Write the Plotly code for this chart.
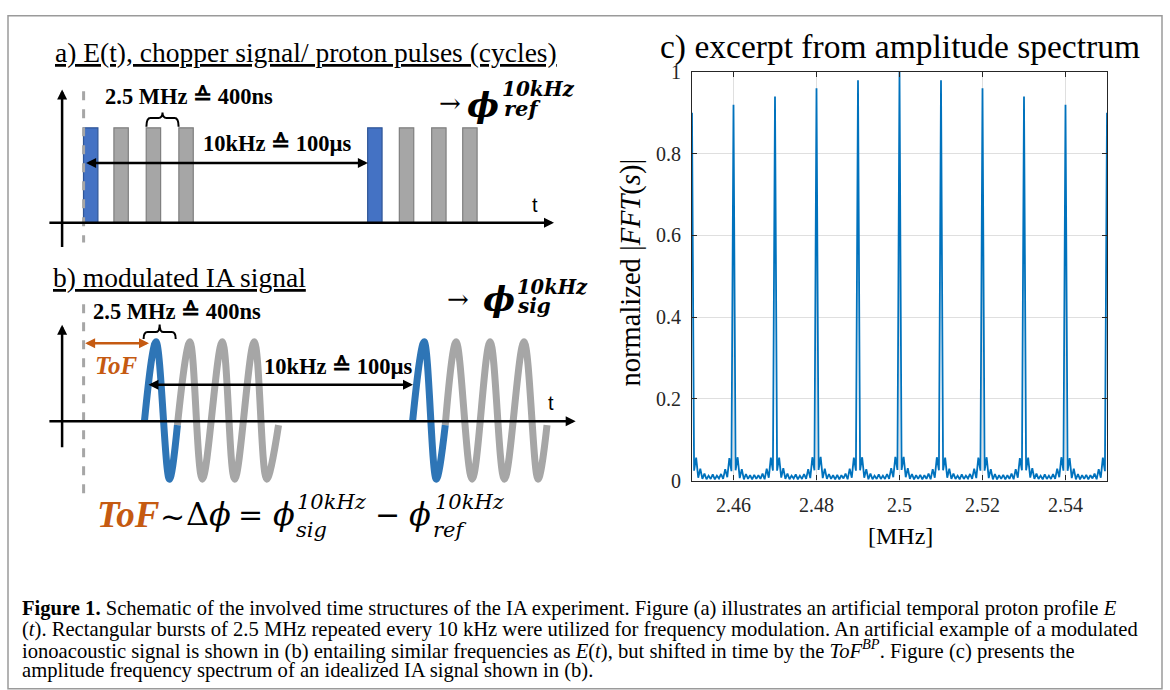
import plotly.graph_objects as go

W, H = 1170, 690
SERIF = "Liberation Serif, Times New Roman, serif"
MATH = "DejaVu Serif, serif"
SANS = "Liberation Sans, Arial, sans-serif"
ORANGE = "#C55A11"
BAR_BLUE = "#4472C4"
WAVE_BLUE = "#2E75B6"
GRAY = "#A6A6A6"

# ---------------- data: panel (c) amplitude spectrum ----------------
freq_start = 2.45      # MHz, first bin
freq_step = 0.0005     # MHz, bin width
amplitude = [
    0.90, 0.024, 0.056, 0.007, 0.029, 0.004, 0.017, 0.003, 0.012, 0.004, 0.015, 0.003, 0.012, 0.005, 0.016, 0.004, 0.028, 0.008, 0.055, 0.023,
    0.92, 0.025, 0.057, 0.006, 0.028, 0.003, 0.016, 0.004, 0.013, 0.003, 0.014, 0.004, 0.013, 0.004, 0.017, 0.003, 0.029, 0.007, 0.056, 0.024,
    0.94, 0.024, 0.056, 0.007, 0.030, 0.004, 0.017, 0.003, 0.012, 0.005, 0.015, 0.003, 0.012, 0.004, 0.016, 0.004, 0.028, 0.006, 0.057, 0.025,
    0.96, 0.026, 0.058, 0.006, 0.029, 0.004, 0.016, 0.004, 0.013, 0.003, 0.014, 0.003, 0.013, 0.005, 0.017, 0.003, 0.029, 0.007, 0.056, 0.024,
    0.98, 0.025, 0.057, 0.007, 0.028, 0.003, 0.017, 0.003, 0.012, 0.004, 0.015, 0.004, 0.012, 0.004, 0.016, 0.004, 0.030, 0.008, 0.058, 0.026,
    1.00, 0.026, 0.058, 0.008, 0.030, 0.004, 0.016, 0.003, 0.013, 0.004, 0.014, 0.003, 0.013, 0.004, 0.017, 0.003, 0.028, 0.007, 0.057, 0.025,
    0.98, 0.025, 0.056, 0.007, 0.029, 0.004, 0.017, 0.004, 0.012, 0.003, 0.015, 0.004, 0.012, 0.005, 0.016, 0.004, 0.029, 0.006, 0.056, 0.024,
    0.96, 0.024, 0.057, 0.006, 0.028, 0.003, 0.016, 0.003, 0.013, 0.004, 0.014, 0.003, 0.013, 0.004, 0.017, 0.003, 0.028, 0.007, 0.055, 0.025,
    0.94, 0.025, 0.056, 0.007, 0.030, 0.004, 0.017, 0.004, 0.012, 0.003, 0.015, 0.004, 0.012, 0.004, 0.016, 0.004, 0.029, 0.008, 0.057, 0.024,
    0.92, 0.024, 0.055, 0.006, 0.029, 0.003, 0.016, 0.003, 0.013, 0.004, 0.014, 0.003, 0.013, 0.005, 0.017, 0.003, 0.028, 0.007, 0.056, 0.023,
    0.90,
]
freq = [freq_start + i * freq_step for i in range(len(amplitude))]
x_tickvals = [2.46, 2.48, 2.50, 2.52, 2.54]
x_ticktext = ["2.46", "2.48", "2.5", "2.52", "2.54"]
y_tickvals = [0, 0.2, 0.4, 0.6, 0.8, 1.0]
y_ticktext = ["0", "0.2", "0.4", "0.6", "0.8", "1"]

# ---------------- data: schematic panels (a) and (b), in pulse-period units ----------------
pulse_times = [0, 0.95, 1.96, 2.98, 8.88, 9.87, 10.88, 11.85]
pulse_heights = [1, 1, 1, 1, 1, 1, 1, 1]
pulse_is_ref = [True, False, False, False, True, False, False, False]

wave1_blue_t = [1.68, 2.04, 2.46, 2.71]
wave1_blue_y = [0.0, 1.0, -0.73, -0.05]
wave1_gray_t = [2.71, 3.10, 3.49, 4.11, 4.50, 5.11, 5.50, 5.87]
wave1_gray_y = [-0.05, 1.0, -0.73, 1.0, -0.73, 1.0, -0.73, -0.05]
wave2_blue_t = [10.06, 10.42, 10.80, 11.08]
wave2_blue_y = [0.0, 1.0, -0.73, -0.05]
wave2_gray_t = [11.08, 11.42, 11.92, 12.48, 12.93, 13.54, 13.98, 14.26]
wave2_gray_y = [-0.05, 1.0, -0.73, 1.0, -0.73, 1.0, -0.73, -0.05]

caption_lines = [
    "<b>Figure 1.</b> Schematic of the involved time structures of the IA experiment. Figure (a) illustrates an artificial temporal proton profile <i>E</i>",
    "(<i>t</i>). Rectangular bursts of 2.5 MHz repeated every 10 kHz were utilized for frequency modulation. An artificial example of a modulated",
    "ionoacoustic signal is shown in (b) entailing similar frequencies as <i>E</i>(<i>t</i>), but shifted in time by the <i>ToF</i><sup><i>BP</i></sup>. Figure (c) presents the",
    "amplitude frequency spectrum of an idealized IA signal shown in (b).",
]

# ---------------- helpers ----------------
def px(x):
    return x / W

def py(y):
    return 1 - y / H

annotations = []
shapes = []

def text(x, y, s, size, color="black", family=SERIF, xa="left", ya="middle", angle=0):
    annotations.append(dict(x=px(x), y=py(y), xref="paper", yref="paper", text=s,
                            showarrow=False, xanchor=xa, yanchor=ya, textangle=angle,
                            font=dict(family=family, size=size, color=color)))

def arrow(x0, y0, x1, y1, color="black", width=2.5, both=False, size=0.8):
    d = dict(x=px(x1), y=py(y1), xref="paper", yref="paper", text="",
             showarrow=True, ax=x0 - x1, ay=y0 - y1, axref="pixel", ayref="pixel",
             arrowhead=2, arrowsize=size, arrowwidth=width, arrowcolor=color,
             standoff=0, startstandoff=0)
    if both:
        d.update(arrowside="end+start", startarrowhead=2, startarrowsize=size)
    annotations.append(d)

def bracket(x0, x1, y, h_end, h_mid):
    xc = (x0 + x1) / 2
    r = 4
    p = (f"M{px(x0)},{py(y + h_end)} Q{px(x0)},{py(y)} {px(x0 + r)},{py(y)} "
         f"L{px(xc - r)},{py(y)} Q{px(xc)},{py(y)} {px(xc)},{py(y - h_mid)} "
         f"Q{px(xc)},{py(y)} {px(xc + r)},{py(y)} L{px(x1 - r)},{py(y)} "
         f"Q{px(x1)},{py(y)} {px(x1)},{py(y + h_end)}")
    shapes.append(dict(type="path", xref="paper", yref="paper", path=p,
                       line=dict(color="black", width=2)))

def vdash(x, y0, y1):
    shapes.append(dict(type="line", xref="paper", yref="paper", x0=px(x), x1=px(x),
                       y0=py(y0), y1=py(y1), line=dict(color=GRAY, width=3, dash="dash")))

fig = go.Figure()

# ---- panel (c) spectrum ----
fig.add_trace(go.Scatter(x=freq, y=amplitude, mode="lines", xaxis="x", yaxis="y",
                         line=dict(color="#0072BD", width=1.8), hoverinfo="skip"))

# ---- panel (a) bars ----
fig.add_trace(go.Bar(x=pulse_times, y=pulse_heights, width=0.45, xaxis="x2", yaxis="y2",
                     marker=dict(color=[BAR_BLUE if r else GRAY for r in pulse_is_ref],
                                 line=dict(color=["#2F5597" if r else "#7F7F7F" for r in pulse_is_ref],
                                           width=1.2)),
                     hoverinfo="skip"))

# ---- panel (b) waves ----
for t, y, c in [(wave1_gray_t, wave1_gray_y, GRAY), (wave2_gray_t, wave2_gray_y, GRAY),
                (wave1_blue_t, wave1_blue_y, WAVE_BLUE), (wave2_blue_t, wave2_blue_y, WAVE_BLUE)]:
    fig.add_trace(go.Scatter(x=t, y=y, mode="lines", xaxis="x2", yaxis="y3",
                             line=dict(color=c, width=7, shape="spline", smoothing=1.0),
                             hoverinfo="skip"))

# ---- outer frame ----
shapes.append(dict(type="rect", xref="paper", yref="paper", x0=px(8), x1=px(1162),
                   y0=py(700), y1=py(5), line=dict(color="#9A9A9A", width=1.5)))

A0 = 218.7   # panel (a) time-axis position
B0 = 423.7   # panel (b) time-axis position

# ---- panel (a) decorations ----
text(53, 43, "<u>a) E(t), chopper signal/ proton pulses (cycles)</u>", 27.5)
vdash(83.6, 83, 239)
arrow(62.1, 240, 62.1, 81)
arrow(47.9, A0, 554, A0)
text(534.6, 200, "t", 20, family=SANS, xa="center")
text(103, 88, "<b>2.5 MHz ≙ 400ns</b>", 22.5)
bracket(146.4, 178.6, 110.5, 9, 5.6)
text(201, 137, "<b>10kHz ≙ 100µs</b>", 22.5)
arrow(84.6, 157, 367.9, 157, both=True)
text(437, 95, "→", 26, family=MATH)
text(465, 97, "<b><i>ϕ</i></b>", 34, family=MATH)
text(500, 81, "<b><i>10kHz</i></b>", 20, family=MATH)
text(502, 101, "<b><i>ref</i></b>", 21, family=MATH)

# ---- panel (b) decorations ----
text(51, 275, "<u>b) modulated IA signal</u>", 27.5)
vdash(83.6, 303, 500)
arrow(62.1, 448, 62.1, 324)
arrow(47.9, B0, 575.7, B0)
text(551.4, 405, "t", 20, family=SANS, xa="center")
text(91, 310, "<b>2.5 MHz ≙ 400ns</b>", 22.5)
bracket(143.6, 175.7, 331.7, 7, 8)
arrow(83.6, 343.3, 149, 343.3, color=ORANGE, both=True)
text(92.9, 366, "<b><i>ToF</i></b>", 25, color=ORANGE)
text(262, 367, "<b>10kHz ≙ 100µs</b>", 22.5)
arrow(147, 386, 413, 386, both=True)
text(445, 298, "→", 26, family=MATH)
text(481, 297, "<b><i>ϕ</i></b>", 34, family=MATH)
text(515, 286, "<b><i>10kHz</i></b>", 19.5, family=MATH)
text(515, 305, "<b><i>sig</i></b>", 20, family=MATH)

# formula
text(95, 520, "<b><i>ToF</i></b>", 37, color=ORANGE)
text(158, 522, "~", 30, family=MATH)
text(184, 520, "Δ<i>ϕ</i>", 32, family=MATH)
text(236, 520, "=", 30, family=MATH)
text(271, 520, "<i>ϕ</i>", 32, family=MATH)
text(295, 507, "<i>10kHz</i>", 21, family=MATH)
text(293.6, 536, "<i>sig</i>", 21, family=MATH)
text(373, 520, "−", 30, family=MATH)
text(407, 520, "<i>ϕ</i>", 32, family=MATH)
text(433, 507, "<i>10kHz</i>", 21, family=MATH)
text(431, 536, "<i>ref</i>", 21, family=MATH)

# ---- panel (c) texts ----
text(900, 37, "c) excerpt from amplitude spectrum", 33.5, xa="center")
text(631, 270, "normalized |<i>FFT</i>(<i>s</i>)|", 28.5, xa="center", angle=-90)
text(900, 542, "[MHz]", 24, xa="center")

# ---- caption ----
for i, line in enumerate(caption_lines):
    text(20, 617 + 21.5 * i, line, 20.6)

axis_common = dict(showline=True, linecolor="#262626", linewidth=1.2, mirror="ticks",
                   ticks="inside", ticklen=5, tickcolor="#262626",
                   showgrid=True, gridcolor="#DFDFDF", gridwidth=1, zeroline=False,
                   tickfont=dict(family=SERIF, size=20, color="#262626"))

fig.update_layout(
    width=W, height=H, autosize=False,
    margin=dict(l=0, r=0, t=0, b=0),
    paper_bgcolor="white", plot_bgcolor="white",
    showlegend=False,
    xaxis=dict(domain=[px(692), px(1107)], range=[2.45, 2.55], anchor="y",
               tickvals=x_tickvals, ticktext=x_ticktext, ticklabelstandoff=6, **axis_common),
    yaxis=dict(domain=[py(485), py(63)], range=[0, 1], anchor="x",
               tickvals=y_tickvals, ticktext=y_ticktext, ticklabelstandoff=6, **axis_common),
    xaxis2=dict(domain=[0, 0.5], range=[-90.7 / 32, (585 - 90.7) / 32], visible=False, anchor="y2"),
    yaxis2=dict(domain=[0, 1], range=[(A0 - 690) / 98, A0 / 98], visible=False, anchor="x2"),
    yaxis3=dict(domain=[0, 1], range=[(B0 - 690) / 82, B0 / 82], visible=False,
                anchor="x2", overlaying="y2"),
    annotations=annotations,
    shapes=shapes,
)

fig.write_html("out.html", config={"displayModeBar": False})
